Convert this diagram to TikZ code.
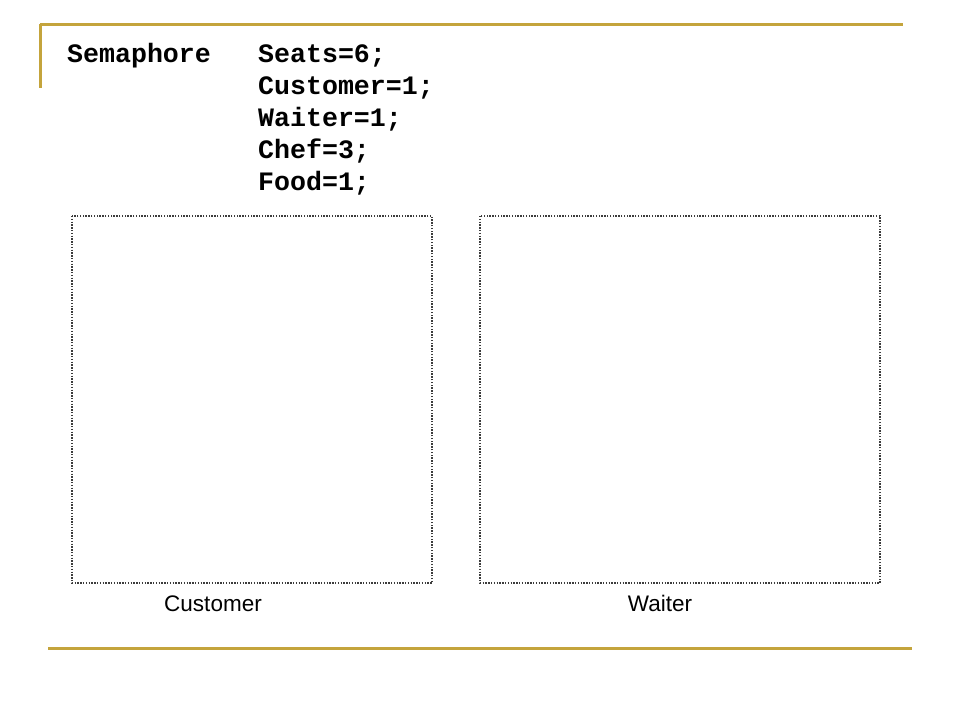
\documentclass[tikz,border=0pt]{standalone}
\usepackage{fontspec}
\setmainfont{Liberation Sans}
\newfontfamily\codefont{Liberation Mono}
\definecolor{gold}{RGB}{196,164,60}
\definecolor{dotgray}{RGB}{60,60,60}
\begin{document}
\begin{tikzpicture}[x=1pt,y=-1pt,
  rule/.style={draw=gold,line width=3pt},
  panel/.style={draw=dotgray,line width=1.4pt,dash pattern=on 1.4pt off 1.4pt},
  code/.style={font=\codefont\bfseries\fontsize{26.6}{26.6}\selectfont,anchor=base west,inner sep=0pt},
  label/.style={font=\fontsize{22.5}{22.5}\selectfont,anchor=base,inner sep=0pt}]
\useasboundingbox (0,0) rectangle (960,720);
\fill[white] (0,0) rectangle (960,720);
% decorative rules
\coordinate (tl) at (40,24);
\coordinate (tr) at (903,24);
\coordinate (vb) at (40,88);
\coordinate (bl) at (48,648);
\coordinate (br) at (912,648);
\draw[rule] (tl) -- (tr);
\draw[rule] (tl) -- (vb);
\draw[rule] (bl) -- (br);
% code text
\node[code] (sem) at (67,62) {Semaphore};
\node[code] (l1) at (258,62) {Seats=6;};
\node[code] (l2) at (258,94) {Customer=1;};
\node[code] (l3) at (258,126) {Waiter=1;};
\node[code] (l4) at (258,158) {Chef=3;};
\node[code] (l5) at (258,190) {Food=1;};
% panels
\draw[panel] (72,216) rectangle (432,583);
\draw[panel] (480,216) rectangle (880,583);
\node[label] (cust) at (213,611) {Customer};
\node[label] (wait) at (660,611) {Waiter};
\end{tikzpicture}
\end{document}
